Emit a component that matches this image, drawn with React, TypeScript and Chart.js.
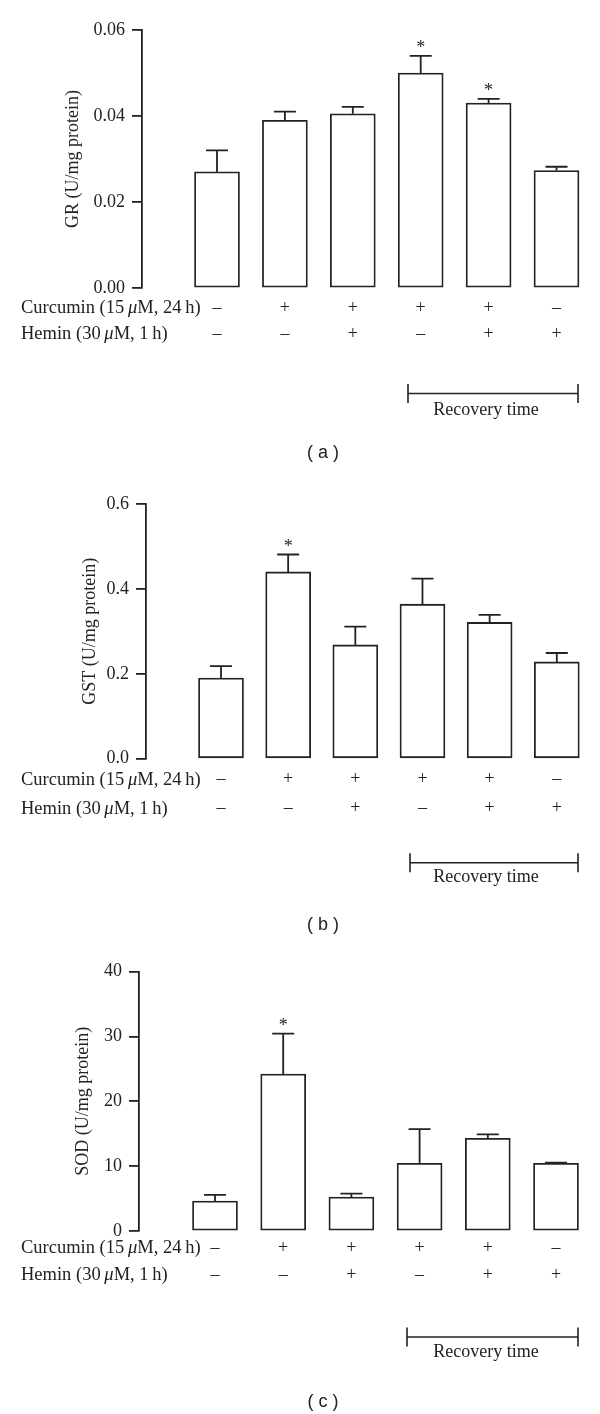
import { useEffect, useRef } from 'react';
import { Chart, registerables } from 'chart.js';

Chart.register(...registerables);

// ---------- data ----------
const groups = [1, 2, 3, 4, 5, 6];
const curcuminSigns = ['–', '+', '+', '+', '+', '–'];
const heminSigns = ['–', '–', '+', '–', '+', '+'];

const curcuminLabel = [
  { t: 'Curcumin (15\u2009', it: false },
  { t: 'μ', it: true },
  { t: 'M, 24\u2009h)', it: false },
];
const heminLabel = [
  { t: 'Hemin (30\u2009', it: false },
  { t: 'μ', it: true },
  { t: 'M, 1\u2009h)', it: false },
];
const recoveryLabel = 'Recovery time';

const grMean = [0.027, 0.039, 0.0405, 0.05, 0.043, 0.0273];
const grSem = [0.005, 0.002, 0.0016, 0.004, 0.001, 0.0009];
const grStar = [false, false, false, true, true, false];
const grTicks = [0, 0.02, 0.04, 0.06];
const grTickLabels = ['0.00', '0.02', '0.04', '0.06'];

const gstMean = [0.19, 0.44, 0.268, 0.364, 0.321, 0.228];
const gstSem = [0.028, 0.041, 0.043, 0.06, 0.018, 0.021];
const gstStar = [false, true, false, false, false, false];
const gstTicks = [0, 0.2, 0.4, 0.6];
const gstTickLabels = ['0.0', '0.2', '0.4', '0.6'];

const sodMean = [4.63, 24.2, 5.25, 10.45, 14.3, 10.45];
const sodSem = [0.93, 6.25, 0.51, 5.25, 0.6, 0.1];
const sodStar = [false, true, false, false, false, false];
const sodTicks = [0, 10, 20, 30, 40];
const sodTickLabels = ['0', '10', '20', '30', '40'];

// ---------- layout / style ----------
const INK = '#222';
const SERIF = '"Liberation Serif", "Times New Roman", serif';
const SANS = '"Liberation Sans", Arial, sans-serif';

const PANELS = [
  {
    key: 'a', top: 0, height: 470, axisX: 142, firstX: 217, lastX: 556.5, yTop: 30, yZero: 288,
    title: 'GR (U/mg protein)', titleX: 73, mean: grMean, sem: grSem, star: grStar,
    ticks: grTicks, tickLabels: grTickLabels, caption: '( a )',
    off: { cur: 20, hem: 46, br: 105.5, rec: 122, cap: 165 }, br: [408, 578],
  },
  {
    key: 'b', top: 470, height: 470, axisX: 146, firstX: 221, lastX: 556.8, yTop: 34, yZero: 288.7,
    title: 'GST (U/mg protein)', titleX: 90, mean: gstMean, sem: gstSem, star: gstStar,
    ticks: gstTicks, tickLabels: gstTickLabels, caption: '( b )',
    off: { cur: 21, hem: 50, br: 104, rec: 119, cap: 166 }, br: [410, 578],
  },
  {
    key: 'c', top: 940, height: 474, axisX: 139, firstX: 215, lastX: 556, yTop: 31.7, yZero: 291,
    title: 'SOD (U/mg protein)', titleX: 83, mean: sodMean, sem: sodSem, star: sodStar,
    ticks: sodTicks, tickLabels: sodTickLabels, caption: '( c )',
    off: { cur: 17, hem: 44, br: 106, rec: 121, cap: 171 }, br: [407, 578],
  },
];

type Part = { t: string; it: boolean };

function drawParts(ctx: CanvasRenderingContext2D, parts: Part[], x: number, y: number, size: number) {
  let cx = x;
  ctx.textAlign = 'left';
  ctx.textBaseline = 'middle';
  for (const p of parts) {
    ctx.font = `${p.it ? 'italic ' : ''}${size}px ${SERIF}`;
    ctx.fillText(p.t, cx, y);
    cx += ctx.measureText(p.t).width;
  }
}

function Panel({ p }: { p: (typeof PANELS)[number] }) {
  const ref = useRef<HTMLCanvasElement | null>(null);

  useEffect(() => {
    const canvas = ref.current;
    if (!canvas) return;
    const R = 590;
    const ppu = (p.lastX - p.firstX) / 5;
    const xMin = 1 - (p.firstX - p.axisX) / ppu;
    const xMax = 6 + (R - p.lastX) / ppu;
    const titleSize = 18;
    const titleLH = titleSize * 1.2;

    const overlay = {
      id: 'overlay',
      afterDatasetsDraw(chart: any) {
        const ctx: CanvasRenderingContext2D = chart.ctx;
        const ys = chart.scales.y;
        const xs = chart.scales.x;
        const meta = chart.getDatasetMeta(0);
        ctx.save();
        ctx.strokeStyle = INK;
        ctx.fillStyle = INK;
        ctx.lineWidth = 1.8;
        // error bars + asterisks
        meta.data.forEach((el: any, i: number) => {
          const x = el.x;
          const yTopBar = el.y;
          const yErr = ys.getPixelForValue(p.mean[i] + p.sem[i]);
          ctx.beginPath();
          ctx.moveTo(x, yTopBar);
          ctx.lineTo(x, yErr);
          ctx.moveTo(x - 11, yErr);
          ctx.lineTo(x + 11, yErr);
          ctx.stroke();
          if (p.star[i]) {
            ctx.font = `18px ${SERIF}`;
            ctx.textAlign = 'center';
            ctx.textBaseline = 'alphabetic';
            ctx.fillText('*', x, yErr - 3);
          }
        });
        // table
        const y0 = ys.getPixelForValue(0);
        drawParts(ctx, curcuminLabel, 21, y0 + p.off.cur, 18.5);
        drawParts(ctx, heminLabel, 21, y0 + p.off.hem, 18.5);
        ctx.font = `18px ${SERIF}`;
        ctx.textAlign = 'center';
        ctx.textBaseline = 'middle';
        groups.forEach((g, i) => {
          const gx = xs.getPixelForValue(g);
          ctx.fillText(curcuminSigns[i], gx, y0 + p.off.cur);
          ctx.fillText(heminSigns[i], gx, y0 + p.off.hem);
        });
        // recovery bracket
        ctx.lineWidth = 1.6;
        const by = y0 + p.off.br;
        ctx.beginPath();
        ctx.moveTo(p.br[0], by);
        ctx.lineTo(p.br[1], by);
        ctx.moveTo(p.br[0], by - 9.5);
        ctx.lineTo(p.br[0], by + 9.5);
        ctx.moveTo(p.br[1], by - 9.5);
        ctx.lineTo(p.br[1], by + 9.5);
        ctx.stroke();
        ctx.font = `18px ${SERIF}`;
        ctx.fillText(recoveryLabel, 486, y0 + p.off.rec);
        // caption
        ctx.font = `18px ${SANS}`;
        ctx.fillText(p.caption, 323, y0 + p.off.cap);
        ctx.restore();
      },
    };

    const chart = new Chart(canvas, {
      type: 'bar',
      data: {
        datasets: [
          {
            data: groups.map((g, i) => ({ x: g, y: p.mean[i] })),
            backgroundColor: '#ffffff',
            borderColor: INK,
            borderWidth: 1.8,
            borderSkipped: false,
            barThickness: 45,
          },
        ],
      },
      options: {
        responsive: false,
        animation: false,
        devicePixelRatio: 1,
        layout: { padding: { left: 0, right: 600 - R, top: p.yTop, bottom: p.height - p.yZero } },
        plugins: { legend: { display: false }, tooltip: { enabled: false } },
        scales: {
          x: {
            type: 'linear',
            display: false,
            offset: false,
            grid: { offset: false },
            bounds: 'data',
            min: xMin,
            max: xMax,
          },
          y: {
            type: 'linear',
            min: p.ticks[0],
            max: p.ticks[p.ticks.length - 1],
            afterBuildTicks: (s: any) => {
              s.ticks = p.ticks.map((v) => ({ value: v }));
            },
            afterFit: (s: any) => {
              s.width = p.axisX;
            },
            border: { display: true, color: INK, width: 1.8 },
            grid: { drawOnChartArea: false, drawTicks: true, tickLength: 10, color: INK, lineWidth: 1.8 },
            ticks: {
              padding: 7,
              color: INK,
              font: { family: SERIF, size: 18 },
              callback: (_v: any, i: number) => p.tickLabels[i],
            },
            title: {
              display: true,
              text: p.title,
              color: INK,
              font: { family: SERIF, size: titleSize, lineHeight: 1.2 },
              padding: { top: p.titleX - titleLH / 2, bottom: 0 },
            },
          },
        },
      },
      plugins: [overlay],
    } as any);
    return () => chart.destroy();
  }, [p]);

  return (
    <canvas
      ref={ref}
      width={600}
      height={p.height}
      style={{ position: 'absolute', left: 0, top: p.top, width: 600, height: p.height, display: 'block' }}
    />
  );
}

export default function App() {
  return (
    <div style={{ position: 'absolute', left: 0, top: 0, width: 600, height: 1414, background: '#fff' }}>
      {PANELS.map((p) => (
        <Panel key={p.key} p={p} />
      ))}
    </div>
  );
}
